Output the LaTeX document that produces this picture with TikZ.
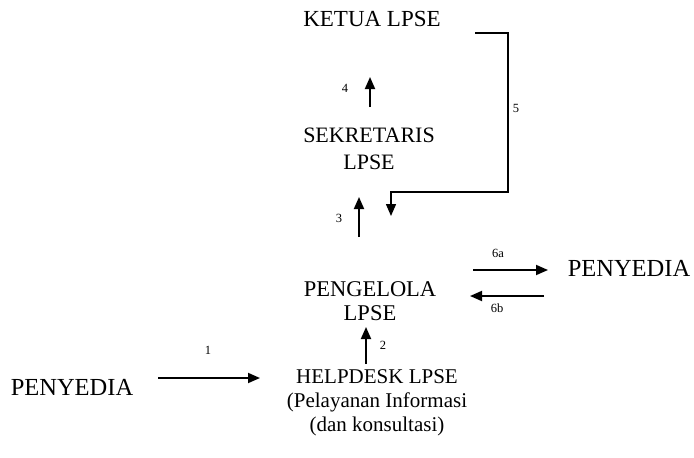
\documentclass[tikz,border=0pt]{standalone}
\usepackage{fontspec}
\setmainfont{Liberation Serif}
\usetikzlibrary{arrows.meta}
\begin{document}
\begin{tikzpicture}[x=1pt,y=-1pt,
  box/.style={inner sep=0pt,align=center,font=\fontsize{22}{27}\selectfont},
  num/.style={inner sep=0pt,font=\fontsize{12.5}{14}\selectfont},
  arr/.style={line width=1.8pt,-{Triangle[length=12pt,width=10pt]}},
  ln/.style={line width=1.6pt}]
\useasboundingbox (0,0) rectangle (694,458);
\node[box,font=\fontsize{23}{27}\selectfont] (ketua) at (372,19) {KETUA LPSE};
\node[box] (sek) at (369,149) {SEKRETARIS\\LPSE};
\node[box,font=\fontsize{22.5}{24}\selectfont] (peng) at (370,301) {PENGELOLA\\LPSE};
\node[box,font=\fontsize{24.5}{27}\selectfont] (penyR) at (629,268) {PENYEDIA};
\node[box,font=\fontsize{21}{24}\selectfont] (help) at (377,403) {HELPDESK LPSE\\(Pelayanan Informasi\\(dan konsultasi)};
\node[box,font=\fontsize{24.5}{27}\selectfont] (penyL) at (72,387) {PENYEDIA};
% coordinates for arrow ends
\coordinate (a4s) at (370,107); \coordinate (a4e) at (370,77);
\coordinate (a3s) at (359,237); \coordinate (a3e) at (359,197);
\coordinate (a2s) at (366,364); \coordinate (a2e) at (366,327);
\coordinate (a1s) at (158,378); \coordinate (a1e) at (260,378);
\coordinate (a6as) at (473,270); \coordinate (a6ae) at (548,270);
\coordinate (a6bs) at (544,296); \coordinate (a6be) at (470,296);
\coordinate (a5s) at (475,33); \coordinate (a5e) at (391,216);
\draw[arr] (a4s) -- (a4e);
\draw[arr] (a3s) -- (a3e);
\draw[arr] (a2s) -- (a2e);
\draw[arr] (a1s) -- (a1e);
\draw[arr] (a6as) -- (a6ae);
\draw[arr] (a6bs) -- (a6be);
\draw[arr,line width=1.4pt] (a5s) -- (508,33) -- (508,192) -- (391,192) -- (a5e);
\node[num] (l4) at (345,88) {4};
\node[num] (l5) at (516,108) {5};
\node[num] (l3) at (339,218) {3};
\node[num] (l6a) at (498,253) {6a};
\node[num] (l6b) at (497,308) {6b};
\node[num] (l2) at (383,345) {2};
\node[num] (l1) at (208,350) {1};
\end{tikzpicture}
\end{document}
